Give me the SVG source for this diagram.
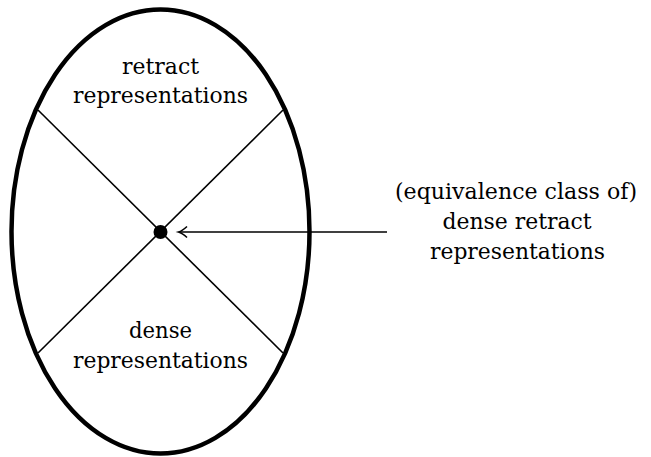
<svg xmlns="http://www.w3.org/2000/svg" width="651" height="457" viewBox="0 0 651 457">
<style>
text{font-family:'DejaVu Serif','Liberation Serif',serif;font-size:23px;fill:#000;text-anchor:middle}
.ln{stroke:#000;stroke-width:1.6;fill:none}
</style>
<rect width="651" height="457" fill="#fff"/>
<g id="ellipse">
<ellipse cx="160.5" cy="231.5" rx="149" ry="222" fill="none" stroke="#000" stroke-width="4.5"/>
</g>
<g id="connectors">
<line class="ln" x1="387" y1="232" x2="179" y2="232"/>
<path class="ln" d="M187,226.5 Q182,231 178.5,232 Q182,233 187,237.5"/>
<line class="ln" x1="38" y1="110" x2="283" y2="353"/>
<line class="ln" x1="283" y1="110" x2="38" y2="353"/>
</g>
<g id="center">
<circle cx="160.5" cy="232" r="7" fill="#000"/>
</g>
<g id="top">
<text x="160.5" y="74" textLength="77" lengthAdjust="spacingAndGlyphs">retract</text>
<text x="160.5" y="103" textLength="175" lengthAdjust="spacingAndGlyphs">representations</text>
</g>
<g id="bottom">
<text x="160.5" y="338" textLength="63" lengthAdjust="spacingAndGlyphs">dense</text>
<text x="160.5" y="368" textLength="175" lengthAdjust="spacingAndGlyphs">representations</text>
</g>
<g id="label">
<text x="516" y="199" textLength="242" lengthAdjust="spacingAndGlyphs">(equivalence class of)</text>
<text x="517" y="229" textLength="149" lengthAdjust="spacingAndGlyphs">dense retract</text>
<text x="517.5" y="259" textLength="175" lengthAdjust="spacingAndGlyphs">representations</text>
</g>
</svg>
